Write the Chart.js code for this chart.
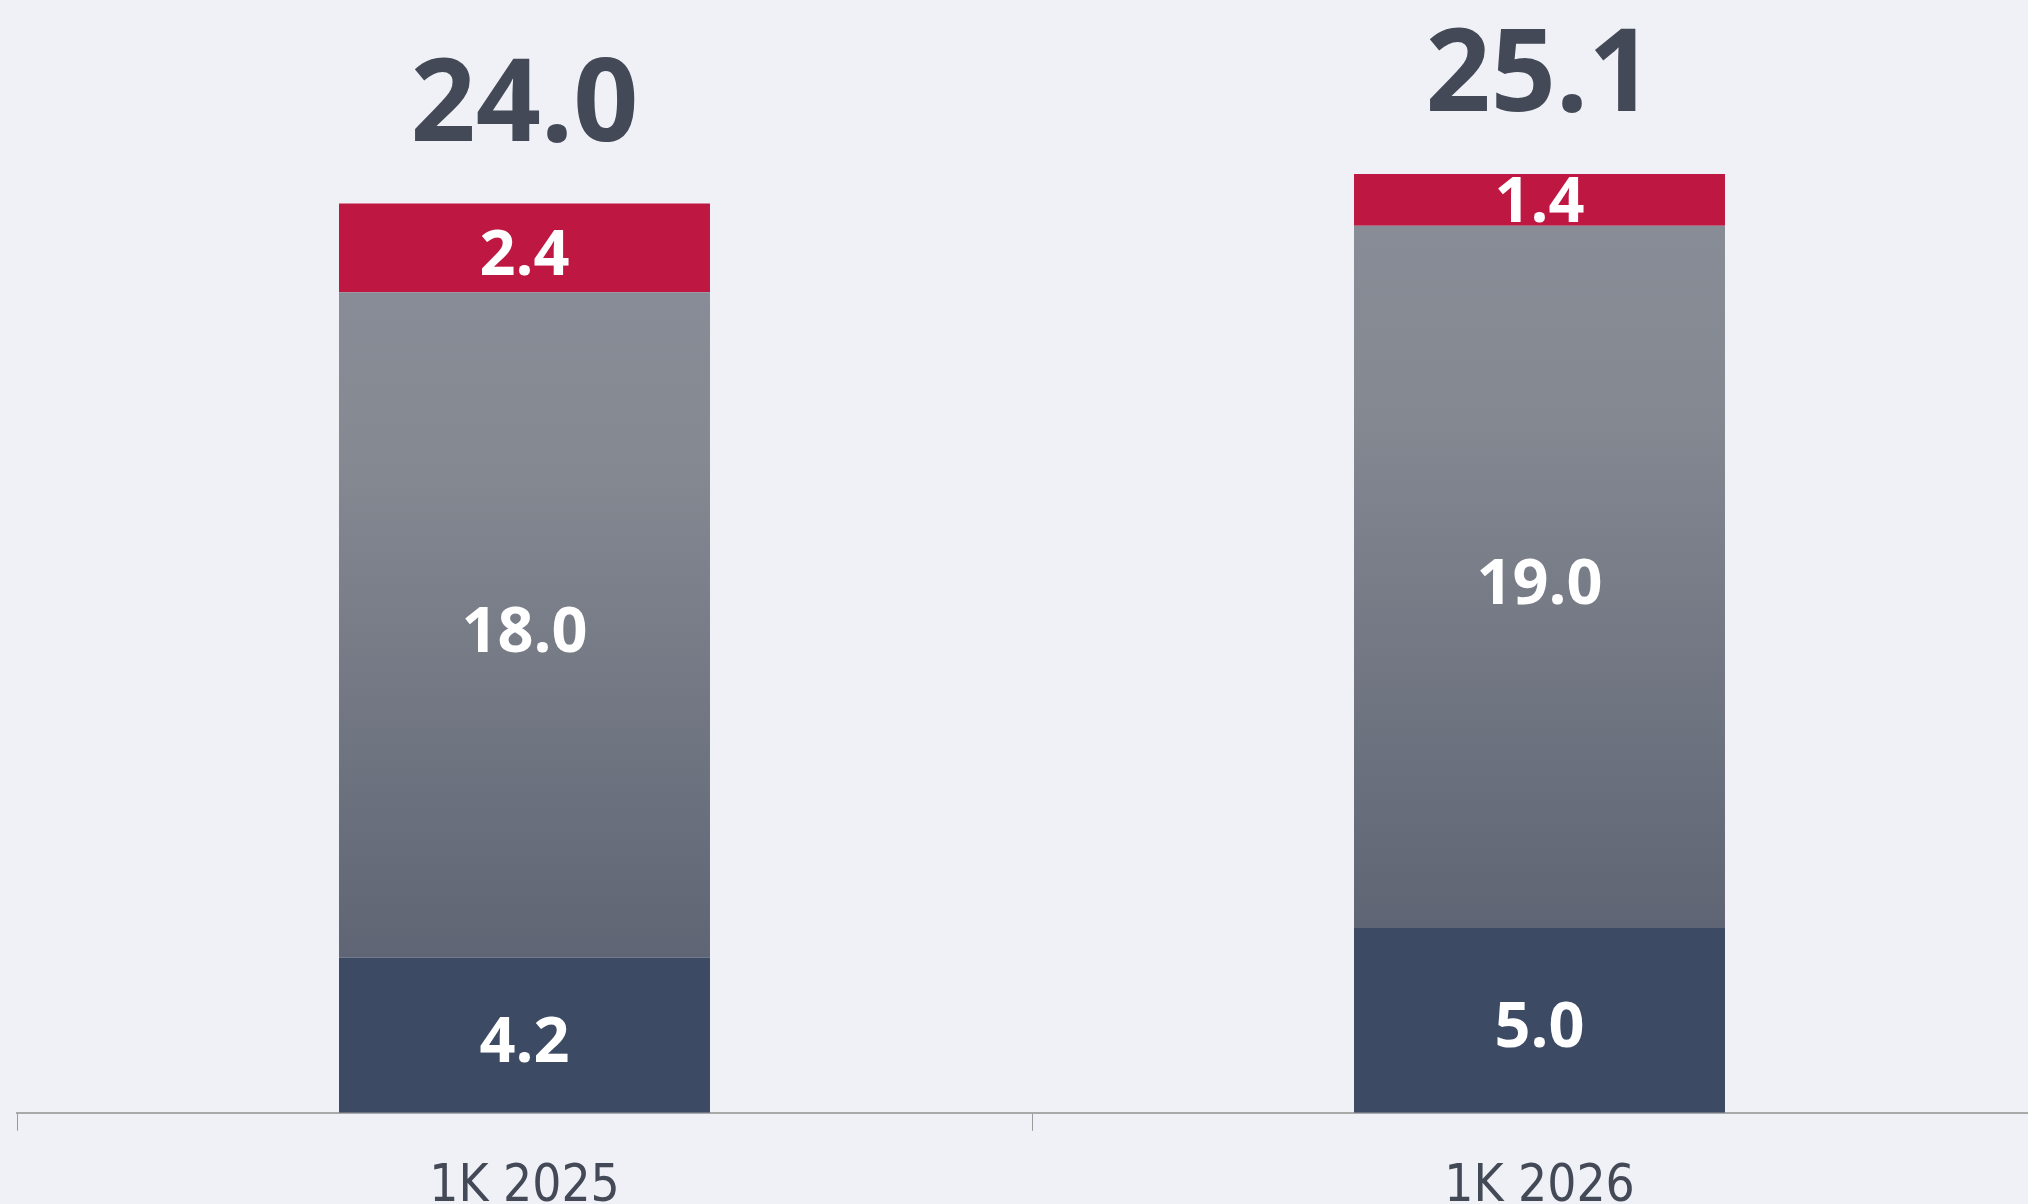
<!DOCTYPE html>
<html>
<head>
<meta charset="utf-8">
<script src="https://cdn.jsdelivr.net/npm/chart.js@4.4.1/dist/chart.umd.min.js"></script>
<style>
  html, body { margin: 0; padding: 0; background: #f0f1f6; overflow: hidden; }
  #wrap { position: absolute; left: 0; top: 0; width: 2050px; height: 1253px; }
</style>
</head>
<body>
<div id="wrap"><canvas id="c"></canvas></div>
<script>
const categories = ['1K 2025', '1K 2026'];
const baseValues = [4.2, 5.0];
const midValues = [18.0, 19.0];
const topValues = [2.4, 1.4];
const totalLabels = ['24.0', '25.1'];
const yMin = 0, yMax = 30;

const BG = '#f0f1f6';
const TEXT_DARK = '#434956';

function grayGradient(ctx) {
  const chart = ctx.chart;
  const y = chart.scales.y;
  if (!y || !chart.chartArea) return '#777c87';
  const i = ctx.dataIndex;
  const top = y.getPixelForValue(baseValues[i] + midValues[i]);
  const bot = y.getPixelForValue(baseValues[i]);
  const g = chart.ctx.createLinearGradient(0, top, 0, bot);
  g.addColorStop(0, '#888c96');
  g.addColorStop(0.25, '#858992');
  g.addColorStop(1, '#5f6574');
  return g;
}

const labelPlugin = {
  id: 'segLabels',
  afterDatasetsDraw(chart) {
    const ctx = chart.ctx;
    ctx.save();
    ctx.textAlign = 'center';
    ctx.textBaseline = 'middle';
    const segFont = "700 63px 'Open Sans', 'Noto Sans', sans-serif";
    chart.data.datasets.forEach((ds, di) => {
      const meta = chart.getDatasetMeta(di);
      meta.data.forEach((bar, i) => {
        const p = bar.getProps(['x', 'y', 'base'], true);
        const h = Math.abs(p.base - p.y);
        const cy = (p.y + p.base) / 2;
        const off = h > 80 ? 9 : 4;
        ctx.fillStyle = '#ffffff';
        ctx.font = segFont;
        ctx.fillText(ds.data[i].toFixed(1), p.x, cy + off);
      });
    });
    const lastMeta = chart.getDatasetMeta(chart.data.datasets.length - 1);
    ctx.textBaseline = 'alphabetic';
    ctx.font = "700 114px 'Open Sans', 'Noto Sans', sans-serif";
    ctx.fillStyle = TEXT_DARK;
    lastMeta.data.forEach((bar, i) => {
      const p = bar.getProps(['x', 'y'], true);
      ctx.fillText(totalLabels[i], p.x, p.y - 63);
    });
    ctx.restore();
  }
};

const bgPlugin = {
  id: 'bg',
  beforeDraw(chart) {
    const ctx = chart.ctx;
    ctx.save();
    ctx.fillStyle = BG;
    ctx.fillRect(0, 0, chart.width, chart.height);
    ctx.restore();
  }
};

new Chart(document.getElementById('c'), {
  type: 'bar',
  data: {
    labels: categories,
    datasets: [
      { label: 'base', data: baseValues, backgroundColor: '#3c4a64', borderWidth: 0 },
      { label: 'mid', data: midValues, backgroundColor: grayGradient, borderWidth: 0 },
      { label: 'top', data: topValues, backgroundColor: '#be1842', borderWidth: 0 }
    ]
  },
  options: {
    responsive: true,
    maintainAspectRatio: false,
    animation: false,
    events: [],
    datasets: { bar: { categoryPercentage: 1.0, barPercentage: 0.3655 } },
    layout: { padding: { left: 17, right: 3, top: 4, bottom: 9 } },
    plugins: { legend: { display: false }, tooltip: { enabled: false } },
    scales: {
      x: {
        stacked: true,
        grid: {
          offset: true,
          drawOnChartArea: false,
          drawTicks: true,
          tickLength: 18,
          color: '#9a9a9a',
          lineWidth: 1
        },
        border: { display: true, color: '#a9a9a9', width: 2 },
        ticks: {
          padding: 26,
          color: TEXT_DARK,
          font: { family: "'Liberation Sans Narrow', 'DejaVu Sans Condensed', 'Open Sans', sans-serif", size: 51, weight: '400' }
        }
      },
      y: {
        stacked: true,
        display: false,
        min: yMin,
        max: yMax
      }
    }
  },
  plugins: [bgPlugin, labelPlugin]
});
</script>
</body>
</html>
